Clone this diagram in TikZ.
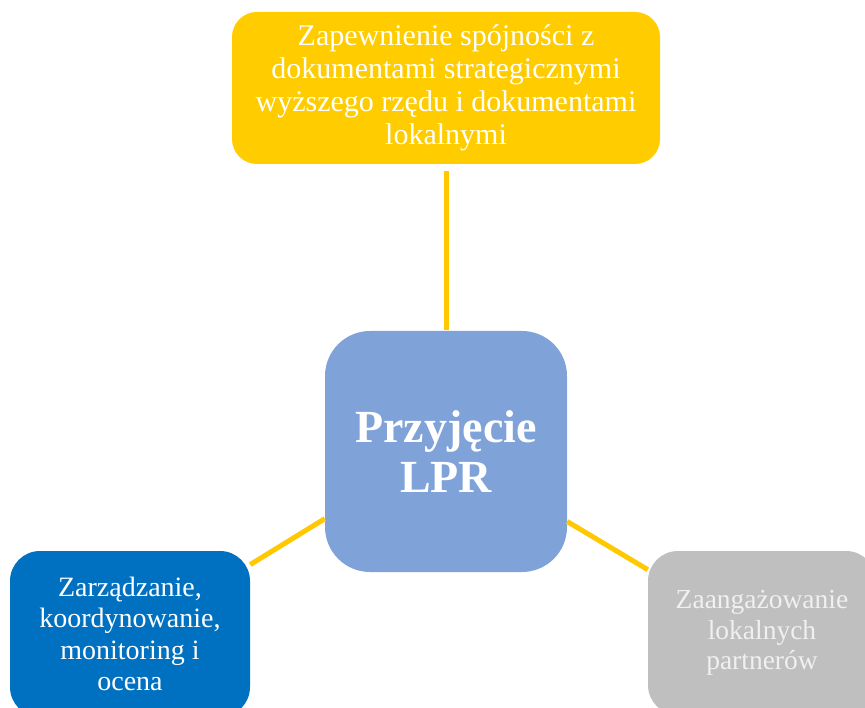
\documentclass[tikz,border=0pt]{standalone}
\usepackage{fontspec}
\setmainfont{Liberation Serif}
\definecolor{topyellow}{HTML}{FFCC00}
\definecolor{linkyellow}{HTML}{FFC800}
\definecolor{centerblue}{HTML}{7FA2D8}
\definecolor{leftblue}{HTML}{0070C0}
\definecolor{rightgray}{HTML}{BFBFBF}
\definecolor{lighttext}{HTML}{F0F0F0}
\tikzset{
  boxbase/.style={rectangle, inner sep=0pt, align=center, text=white},
  link/.style={draw=linkyellow, line width=5pt},
}
\begin{document}
\begin{tikzpicture}[x=1pt,y=-1pt]
\useasboundingbox (0,0) rectangle (865,708);
\clip (0,0) rectangle (865,708);
\node[boxbase, fill=topyellow, rounded corners=25pt, minimum width=428pt, minimum height=152pt,
  font=\fontsize{30}{33}\selectfont] (top) at (446,88)
  {Zapewnienie spójności z\\dokumentami strategicznymi\\wyższego rzędu i dokumentami\\lokalnymi};
\node[boxbase, fill=centerblue, rounded corners=45pt, minimum width=242pt, minimum height=241pt,
  font=\fontsize{46}{50}\selectfont\bfseries] (center) at (446,451.5)
  {Przyjęcie\\LPR};
\node[boxbase, fill=leftblue, rounded corners=30pt, minimum width=240pt, minimum height=166pt,
  font=\fontsize{28}{31.3}\selectfont] (left) at (130,634)
  {Zarządzanie,\\koordynowanie,\\monitoring i\\ocena};
\node[boxbase, fill=rightgray, text=lighttext, rounded corners=30pt, minimum width=228pt, minimum height=164pt,
  font=\fontsize{27.5}{30.5}\selectfont] (right) at (762,633)
  {Zaangażowanie\\lokalnych\\partnerów};
\draw[link, shorten <=7pt, shorten >=1pt] (top.south) -- (center.north);
\draw[link] (center.209.6) -- (left.30);
\draw[link] (center.330.4) -- (right.151);
\end{tikzpicture}
\end{document}
